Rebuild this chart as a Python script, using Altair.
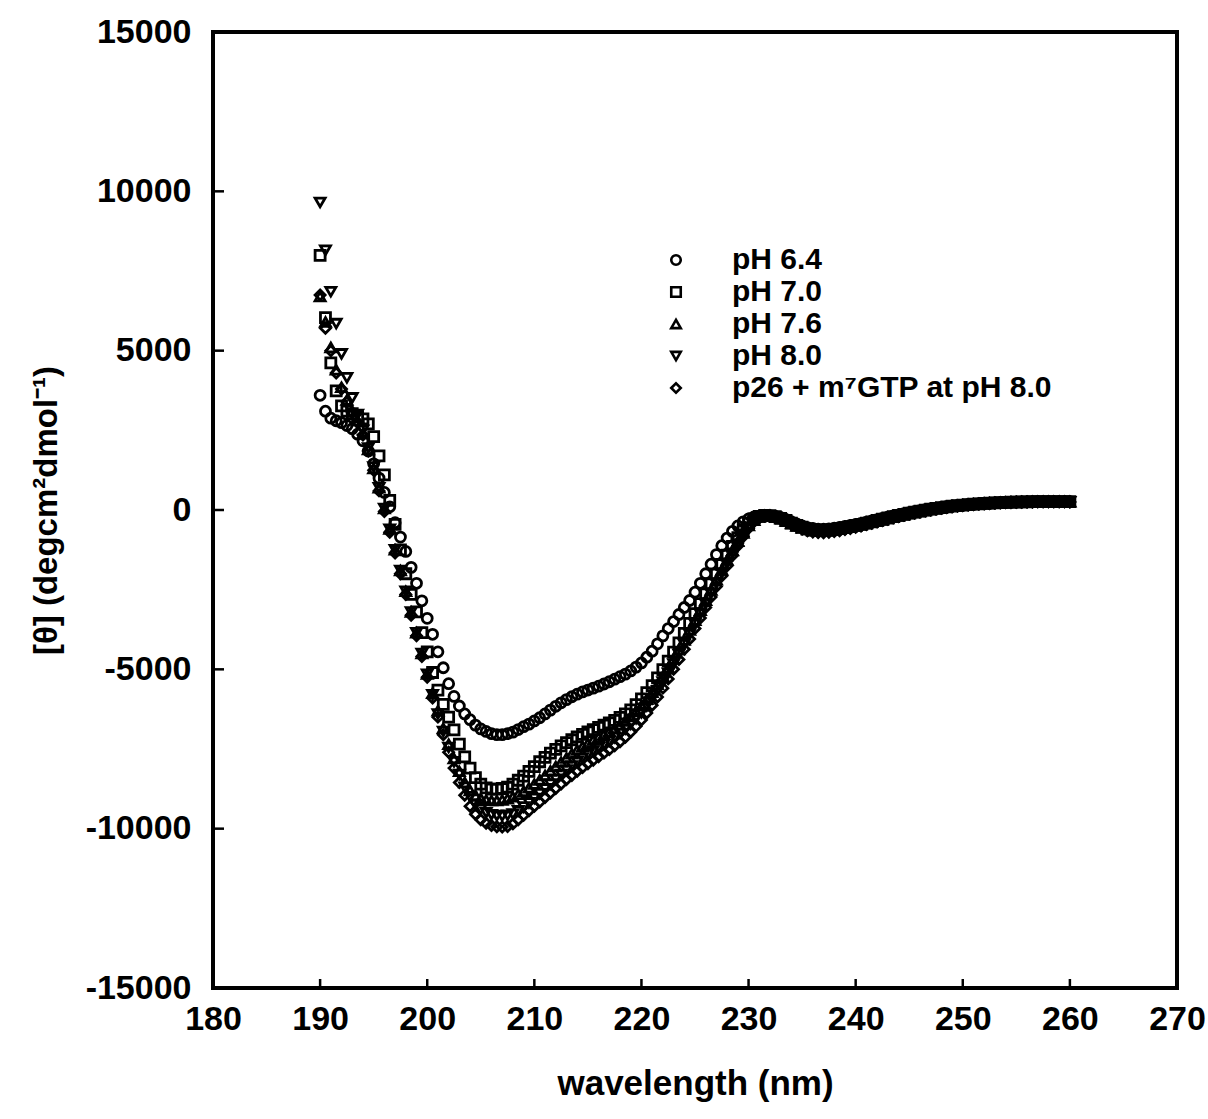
import altair as alt
import pandas as pd

# ---------------- data ----------------
wl_start = 190.0
wl_step = 0.5
n_points = 141  # 190 .. 260 nm

series_names = ["pH 6.4", "pH 7.0", "pH 7.6", "pH 8.0", "p26 + m⁷GTP at pH 8.0"]
series_shapes = ["circle", "square", "triangle-up", "triangle-down", "diamond"]

ph64 = [
    3600, 3100, 2880, 2800, 2740, 2650, 2550, 2380, 2170, 1850,
    1450, 1000, 550, 100, -400, -850, -1300, -1800, -2300, -2850,
    -3400, -3900, -4450, -4950, -5450, -5850, -6150, -6400, -6580, -6750,
    -6870, -6950, -7020, -7050, -7050, -7020, -6970, -6890, -6800, -6720,
    -6620, -6520, -6400, -6280, -6160, -6050, -5950, -5860, -5780, -5710,
    -5650, -5590, -5530, -5460, -5390, -5310, -5230, -5150, -5050, -4930,
    -4800, -4620, -4430, -4200, -3950, -3720, -3500, -3280, -3060, -2840,
    -2580, -2300, -2000, -1700, -1400, -1120, -880, -670, -500, -370,
    -280, -220, -190, -175, -180,
    -200, -240, -300, -370, -440, -500, -550, -580, -600, -600,
    -590, -570, -545, -515, -485, -455, -420, -385, -345, -305,
    -265, -225, -185, -150, -115, -80, -50, -20, 10, 35,
    60, 85, 105, 125, 140, 155, 170, 185, 195, 205,
    215, 225, 230, 238, 245, 250, 253, 256, 258, 260,
    262, 263, 263, 262, 262, 260,
]

ph70 = [
    7990, 6040, 4620, 3740, 3270, 3100, 3020, 2930, 2860, 2700,
    2300, 1700, 1100, 300, -450, -1250, -2000, -2650, -3200, -3850,
    -4450, -5100, -5650, -6100, -6500, -6900, -7350, -7750, -8100, -8400,
    -8600, -8720, -8760, -8760, -8740, -8700, -8600, -8480, -8350, -8200,
    -8050, -7900, -7760, -7630, -7510, -7400, -7300, -7210, -7120, -7040,
    -6960, -6890, -6820, -6750, -6680, -6600, -6510, -6400, -6270, -6110,
    -5930, -5730, -5510, -5270, -5010, -4740, -4460, -4170, -3870, -3560,
    -3250, -2940, -2630, -2320, -2010, -1710, -1420, -1140, -870, -620,
    -420, -280, -200, -170, -175,
    -210, -260, -330, -410, -480, -540, -590, -620, -640, -640,
    -630, -610, -585, -555, -520, -485, -450, -410, -370, -330,
    -290, -250, -210, -170, -135, -100, -65, -35, -5, 25,
    50, 75, 100, 120, 140, 155, 170, 185, 195, 205,
    215, 225, 232, 240, 246, 250, 254, 257, 260, 262,
    263, 264, 264, 264, 263, 262,
]

ph76 = [
    6700, 5900, 5100, 4400, 3850, 3450, 3100, 2800, 2400, 1900,
    1300, 700, 50, -600, -1250, -1900, -2550, -3200, -3850, -4500,
    -5150, -5750, -6300, -6850, -7350, -7800, -8200, -8550, -8800, -8950,
    -9050, -9100, -9120, -9120, -9100, -9060, -9000, -8920, -8830, -8720,
    -8600, -8470, -8330, -8190, -8050, -7910, -7780, -7650, -7530, -7420,
    -7320, -7220, -7130, -7040, -6950, -6850, -6740, -6620, -6480, -6320,
    -6140, -5940, -5720, -5480, -5220, -4950, -4670, -4380, -4080, -3770,
    -3460, -3150, -2830, -2510, -2190, -1880, -1570, -1270, -980, -720,
    -490, -320, -220, -180, -180,
    -215, -270, -345, -425, -500, -565, -615, -650, -665, -665,
    -655, -635, -605, -575, -540, -505, -465, -425, -385, -345,
    -305, -265, -225, -185, -148, -112, -78, -46, -15, 15,
    42, 68, 92, 115, 135, 152, 168, 182, 194, 205,
    215, 224, 232, 238, 244, 249, 253, 256, 259, 261,
    262, 263, 263, 262, 261, 260,
]

ph80 = [
    9650, 8150, 6850, 5850, 4900, 4150, 3520, 3000, 2500, 1950,
    1350, 700, 50, -600, -1250, -1900, -2550, -3200, -3850, -4500,
    -5150, -5800, -6400, -6950, -7450, -7900, -8300, -8700, -9000, -9250,
    -9400, -9500, -9560, -9590, -9600, -9580, -9540, -9440, -9320, -9190,
    -9050, -8900, -8750, -8600, -8450, -8300, -8160, -8030, -7900, -7780,
    -7670, -7560, -7460, -7360, -7250, -7140, -7010, -6870, -6720, -6550,
    -6360, -6150, -5920, -5670, -5400, -5120, -4830, -4530, -4220, -3900,
    -3580, -3260, -2940, -2620, -2300, -1980, -1670, -1360, -1070, -790,
    -540, -350, -240, -185, -180,
    -220, -280, -355, -440, -515, -585, -635, -670, -690, -690,
    -680, -658, -628, -595, -560, -522, -482, -440, -398, -356,
    -314, -272, -232, -192, -154, -118, -83, -50, -19, 10,
    38, 64, 88, 111, 131, 149, 165, 180, 192, 203,
    213, 222, 230, 237, 243, 248, 252, 255, 258, 260,
    261, 262, 262, 261, 260, 258,
]

p26_m7gtp = [
    6750, 5700, 5000, 4300, 3800, 3400, 3050, 2750, 2350, 1850,
    1250, 600, -50, -700, -1350, -2000, -2650, -3300, -3950, -4600,
    -5250, -5900, -6500, -7050, -7600, -8100, -8550, -8950, -9300, -9550,
    -9720, -9830, -9900, -9940, -9950, -9930, -9850, -9720, -9580, -9440,
    -9300, -9160, -9020, -8880, -8740, -8600, -8460, -8330, -8200, -8080,
    -7960, -7850, -7740, -7630, -7520, -7400, -7270, -7130, -6970, -6790,
    -6590, -6370, -6130, -5870, -5590, -5300, -5000, -4690, -4370, -4050,
    -3720, -3390, -3060, -2730, -2400, -2070, -1750, -1430, -1120, -830,
    -570, -370, -250, -190, -180,
    -225, -290, -365, -450, -530, -600, -655, -690, -710, -712,
    -700, -678, -648, -614, -578, -540, -500, -458, -415, -372,
    -330, -288, -246, -206, -167, -130, -94, -60, -28, 2,
    30, 56, 80, 103, 124, 142, 158, 173, 186, 197,
    207, 216, 224, 231, 237, 242, 246, 250, 253, 255,
    257, 258, 258, 257, 256, 254,
]

x_tick_values = [190, 200, 210, 220, 230, 240, 250, 260]
y_tick_values = [-10000, -5000, 0, 5000, 10000]
x_label_values = [180, 190, 200, 210, 220, 230, 240, 250, 260, 270]
y_label_values = [-15000, -10000, -5000, 0, 5000, 10000, 15000]

# ---------------- build tables ----------------
all_series = [ph64, ph70, ph76, ph80, p26_m7gtp]
for s in all_series:
    assert len(s) == n_points, len(s)

wavelengths = [wl_start + wl_step * i for i in range(n_points)]
rows = []
for name, vals in zip(series_names, all_series):
    for w, v in zip(wavelengths, vals):
        rows.append({"wl": w, "theta": v, "series": name})
df = pd.DataFrame(rows)

xt = pd.DataFrame({"wl": x_tick_values})
yt = pd.DataFrame({"theta": y_tick_values})

W, H = 964, 956
FONT = "Liberation Sans, Arial"

x_scale = alt.Scale(domain=[180, 270], nice=False, zero=False)
y_scale = alt.Scale(domain=[-15000, 15000], nice=False, zero=False)

x_axis = alt.Axis(
    values=x_label_values, title="wavelength (nm)", domain=False, ticks=False,
    tickSize=0, grid=False, labelFont=FONT, labelFontSize=34,
    labelFontWeight="bold", labelColor="black", labelPadding=14,
    labelOverlap=False, labelFlush=False, labelBound=False,
    labelExpr="'' + datum.value",
    titleFont=FONT, titleFontSize=35, titleFontWeight="bold",
    titleColor="black", titlePadding=30,
)
y_axis = alt.Axis(
    values=y_label_values, title="[θ] (degcm²dmol⁻¹)", domain=False, ticks=False,
    tickSize=0, grid=False, labelFont=FONT, labelFontSize=34,
    labelFontWeight="bold", labelColor="black", labelPadding=22,
    labelOverlap=False, labelFlush=False, labelBound=False,
    labelExpr="'' + datum.value",
    titleFont=FONT, titleFontSize=33, titleFontWeight="bold",
    titleColor="black", titlePadding=22,
)

points = alt.Chart(df).mark_point(
    filled=False, size=100, strokeWidth=2.8, color="black", opacity=1
).encode(
    x=alt.X("wl:Q", scale=x_scale, axis=x_axis),
    y=alt.Y("theta:Q", scale=y_scale, axis=y_axis),
    shape=alt.Shape(
        "series:N",
        sort=series_names,
        scale=alt.Scale(domain=series_names, range=series_shapes),
        legend=alt.Legend(
            orient="none", legendX=448, legendY=213, title=None,
            labelFont=FONT, labelFontSize=30, labelFontWeight="bold",
            labelColor="black", labelLimit=0, labelOffset=41,
            symbolSize=90, symbolStrokeWidth=2.6, symbolStrokeColor="black",
            symbolFillColor="transparent", rowPadding=2, padding=0,
        ),
    ),
    order=alt.Order("series:N"),
)

x_ticks = alt.Chart(xt).mark_rule(color="black", strokeWidth=2.5).encode(
    x=alt.X("wl:Q", scale=x_scale, axis=x_axis),
    y=alt.value(H),
    y2=alt.value(H - 9),
)
y_ticks = alt.Chart(yt).mark_rule(color="black", strokeWidth=2.5).encode(
    y=alt.Y("theta:Q", scale=y_scale, axis=y_axis),
    x=alt.value(0),
    x2=alt.value(11),
)

chart = alt.layer(points, x_ticks, y_ticks).properties(
    width=W, height=H,
    autosize=alt.AutoSizeParams(type="none"),
    padding={"left": 213, "top": 32, "right": 31, "bottom": 131},
    background="white",
).configure_view(stroke="black", strokeWidth=4)

chart.save("out.html", embed_options={"renderer": "svg", "actions": False})
